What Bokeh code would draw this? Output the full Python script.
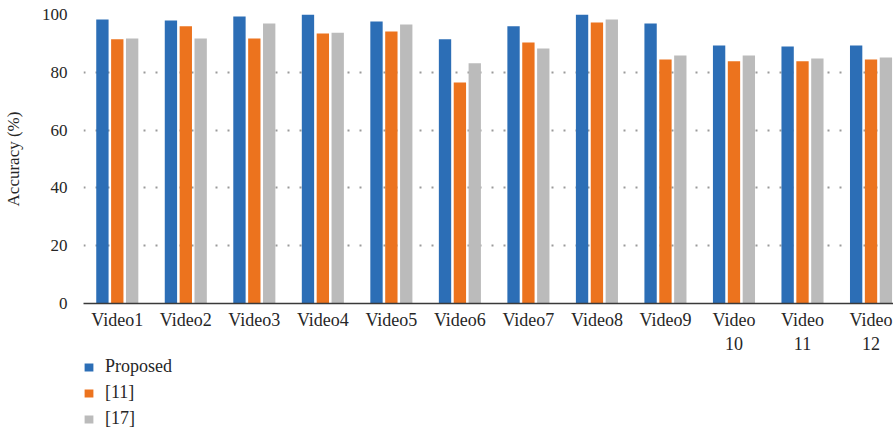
from bokeh.plotting import figure
from bokeh.layouts import column
from bokeh.models import ColumnDataSource, FixedTicker, Range1d, Legend, LegendItem
from bokeh.transform import dodge
from bokeh.embed import file_html
from bokeh.resources import INLINE

categories = ["Video1", "Video2", "Video3", "Video4", "Video5", "Video6",
              "Video7", "Video8", "Video9", "Video\n10", "Video\n11", "Video\n12"]
proposed = [98.3, 97.9, 99.3, 100.0, 97.6, 91.4, 95.9, 100.0, 96.9, 89.3, 88.9, 89.3]
ref11 = [91.4, 95.9, 91.7, 93.4, 94.1, 76.5, 90.3, 97.2, 84.4, 83.8, 83.8, 84.4]
ref17 = [91.7, 91.7, 96.9, 93.7, 96.5, 83.1, 88.2, 98.3, 85.8, 85.8, 84.8, 85.1]
series_names = ["Proposed", "[11]", "[17]"]
y_ticks = [0, 20, 40, 60, 80, 100]

colors = ["#2C6EB6", "#EC731E", "#BBBBBB"]
FONT = "Liberation Serif"
TXT = "#262626"

xs = list(range(1, len(categories) + 1))
src = ColumnDataSource(dict(x=xs, p=proposed, a=ref11, b=ref17))

W = 893
H1 = 356
H2 = 428 - H1
left = 79
top = 14
bottom = H1 - 303
pitch = 68.86
x0 = 0.507
x1 = x0 + (W - left) / pitch

p = figure(width=W, height=H1, output_backend="svg", toolbar_location=None,
           x_range=Range1d(x0, x1), y_range=Range1d(0, 100),
           min_border_left=left, min_border_right=0, min_border_top=top,
           min_border_bottom=bottom)
p.outline_line_color = None
p.background_fill_color = "white"
p.border_fill_color = "white"

for i, (col, c) in enumerate(zip(["p", "a", "b"], colors)):
    p.vbar(x=dodge("x", (i - 1) * 0.217, range=p.x_range), top=col, width=0.18,
           source=src, fill_color=c, line_color=None)

# grid
p.xgrid.grid_line_color = None
p.ygrid.ticker = FixedTicker(ticks=y_ticks)
p.ygrid.grid_line_color = "#9a9a9a"
p.ygrid.grid_line_dash = "2 10"
p.ygrid.grid_line_width = 2

# y axis
p.yaxis.ticker = FixedTicker(ticks=y_ticks)
p.yaxis.axis_line_color = None
p.yaxis.major_tick_line_color = None
p.yaxis.minor_tick_line_color = None
p.yaxis.major_label_standoff = 10
p.yaxis.major_label_text_font = FONT
p.yaxis.major_label_text_font_size = "17px"
p.yaxis.major_label_text_color = TXT
p.yaxis.axis_label = "Accuracy (%)"
p.yaxis.axis_label_text_font = FONT
p.yaxis.axis_label_text_font_size = "17px"
p.yaxis.axis_label_text_font_style = "normal"
p.yaxis.axis_label_text_color = TXT
p.yaxis.axis_label_standoff = 16

# x axis
p.xaxis.ticker = FixedTicker(ticks=xs)
p.xaxis.major_label_overrides = {x: lab for x, lab in zip(xs, categories)}
p.xaxis.axis_line_color = "#3a3a3a"
p.xaxis.axis_line_width = 1.6
p.xaxis.major_tick_line_color = None
p.xaxis.minor_tick_line_color = None
p.xaxis.major_label_standoff = 0
p.xaxis.major_label_text_font = FONT
p.xaxis.major_label_text_font_size = "18px"
p.xaxis.major_label_text_color = TXT
p.xaxis.major_label_text_line_height = 1.2

# legend in a small figure below
q = figure(width=W, height=H2, output_backend="svg", toolbar_location=None,
           x_range=Range1d(0, 1), y_range=Range1d(0, 1),
           x_axis_type=None, y_axis_type=None,
           min_border_left=75, min_border_right=0, min_border_top=0, min_border_bottom=0)
q.outline_line_color = None
q.xgrid.grid_line_color = None
q.ygrid.grid_line_color = None
hidden = ColumnDataSource(dict(x=[-10], top=[-10]))
leg_renderers = [q.vbar(x="x", top="top", width=0.1, source=hidden, fill_color=c, line_color=None)
                 for c in colors]

legend = Legend(items=[LegendItem(label=n, renderers=[r]) for n, r in zip(series_names, leg_renderers)],
                location="top_left", orientation="vertical")
legend.border_line_color = None
legend.background_fill_alpha = 0
legend.padding = 0
legend.margin = 0
legend.spacing = 5
legend.glyph_width = 11
legend.glyph_height = 10
legend.label_height = 20
legend.label_standoff = 11
legend.label_text_font = FONT
legend.label_text_font_size = "18px"
legend.label_text_color = TXT
q.add_layout(legend)

layout = column(p, q, spacing=0)
open("out.html", "w").write(file_html(layout, INLINE))
